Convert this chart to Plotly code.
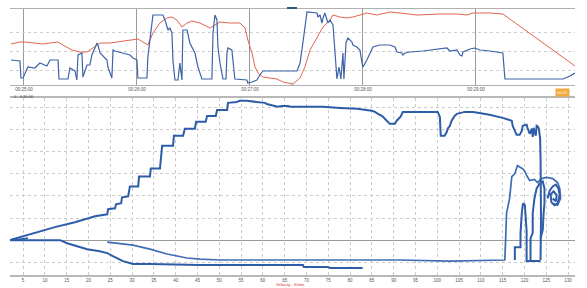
import plotly.graph_objects as go

# ---------------- top panel: time series ----------------
blue_t = [53.1,57.9,58.4,59.5,62.1,65.8,68.5,72.2,73.8,78.1,
          78.6,83.4,84.4,87.1,88.1,88.7,90.8,91.3,93.5,95.0,
          96.1,97.7,98.8,99.3,100.4,104.1,104.6,106.7,107.3,108.3,
          115.2,116.3,117.9,120.0,120.5,125.3,125.8,128.0,128.5,133.8,
          134.9,136.5,137.5,138.6,139.1,140.2,141.8,142.8,143.9,144.4,
          146.6,148.1,150.8,152.4,154.5,159.8,160.4,161.4,162.5,163.0,
          164.1,165.7,167.3,167.8,168.3,170.4,171.0,172.0,178.4,178.9,
          181.1,183.7,185.3,186.9,205.0,206.6,208.1,210.3,215.6,216.1,
          217.2,218.2,218.8,219.8,221.4,222.5,224.1,224.6,225.1,226.2,
          227.3,228.3,229.4,229.9,231.0,232.0,234.2,234.7,236.8,238.4,
          239.5,240.0,242.1,244.8,245.3,249.0,254.3,257.0,258.1,260.7,
          261.2,262.3,264.9,271.9,280.9,284.6,286.2,289.9,291.5,292.6,
          293.1,296.8,299.5,302.1,307.4,312.8,314.3,315.4,325.0,343.0,
          346.2,349.9,352.6]
blue_v = [25,24,7,7,18,17,22,19,25,25,
          6,6,17,14,5,30,32,8,20,20,
          30,38,42,40,32,25,18,7,35,34,
          30,30,27,25,7,7,28,58,70,70,
          65,55,57,52,25,5,5,22,5,55,
          55,42,32,18,6,6,52,70,65,38,
          22,6,6,32,37,35,25,6,5,2,
          3,5,10,14,14,22,42,73,72,68,
          70,62,67,72,62,65,60,48,42,6,
          18,6,32,6,42,47,43,40,38,35,
          22,18,25,35,38,40,40,38,33,32,
          30,32,33,34,36,37,34,35,30,29,
          33,36,37,35,34,33,32,6,6,6,
          6,9,12]

red_t = [53.1,57.9,60.5,64.8,70.1,73.8,78.1,80.7,85.5,89.7,
         93.5,96.6,100.4,105.7,109.4,114.7,120.5,123.2,125.8,128.5,
         132.2,135.9,138.6,141.2,143.9,146.6,149.2,153.5,158.8,161.4,
         164.1,169.4,174.7,177.4,178.9,181.1,182.7,184.3,186.9,190.6,
         194.3,197.5,201.2,202.8,206.6,209.2,211.9,215.6,218.8,222.5,
         224.1,227.8,231.5,234.7,238.4,242.1,247.4,254.3,259.7,268.7,
         280.9,289.9,295.2,298.4,307.4,314.3,352.6]
red_v = [41,43,43,42,41,42,43,40,35,33,
         33,37,42,42,43,45,46,43,40,52,
         62,67,68,65,58,62,64,62,57,60,
         63,62,62,57,45,32,18,12,8,7,
         6,3,2,1,7,18,35,48,58,65,
         70,68,67,68,70,72,70,73,72,70,
         71,71,70,72,72,71,19]

time_ticks = [60, 120, 180, 240, 300]
time_labels = ["00:25:00", "00:26:00", "00:27:00", "00:28:00", "00:29:00"]

# ---------------- bottom panel: velocity plot ----------------
a_x = [2.0,7.75,12.3,16.9,21.5,24.3,24.5,26.1,26.3,27.5,
       27.7,29.1,29.5,31.4,31.6,34.1,34.3,36.4,36.9,39.4,
       39.6,41.7,42.1,44.4,44.7,46.9,47.2,49.2,49.5,51.8,
       52.0,54.0,54.7,56.3,58.6,60.5,60.9,62.3,63.4,64.4,
       65.7,66.4,69.6,73.8,77.7,81.6,85.0,85.7,86.4,87.3,
       88.0,88.7,89.1,90.3,90.7,91.6,92.1,100.1,100.6,100.8,
       101.7,102.2,102.4,102.9,103.3,104.0,104.5,106.3,108.2,109.3,
       112.0,115.0,117.1,117.3,117.8,118.2,118.9,119.4,119.6,120.5,
       120.7,121.2,121.7,121.9,122.1,122.6,122.8,123.1,123.3,123.6,
       123.7,123.8,123.7]
a_y = [0,3.2,5.9,8.1,10.8,11.7,14.0,14.4,16.2,16.7,
       19.4,19.8,24.3,24.3,28.8,28.8,32.4,32.4,42.8,42.8,
       47.3,47.3,50.5,50.5,53.6,53.6,56.3,56.3,59.0,59.0,
       62.2,62.6,63.1,63.1,62.6,62.2,61.7,60.8,60.4,60.8,
       60.8,60.4,60.4,60.4,59.9,59.5,58.6,58.1,57.2,56.3,
       55.0,53.6,52.7,52.7,54.1,55.9,58.1,58.1,55.9,47.3,
       47.3,49.1,50.5,51.8,54.1,56.3,57.2,58.1,58.1,57.7,
       56.8,55.4,54.1,51.8,49.1,47.7,47.7,49.5,51.8,52.3,
       50.9,48.2,50.5,46.8,50.9,47.3,51.8,51.4,50.5,46.0,
       36.9,10.0,-9.0]

b_x = [24.3,30.2,34.1,38.0,42.6,45.6,50.2,68.5,91.4,102.9,
       115.5,115.7,115.9,116.6,117.1,117.8,118.4,119.1,119.6,120.1,
       120.5,121.2,122.3,123.0,123.9,125.1,126.5,127.6,128.1,128.3,
       127.6,126.5]
b_y = [-0.9,-2.3,-4.1,-6.3,-8.1,-8.6,-9.0,-9.0,-9.0,-9.5,
       -9.0,0.9,12.2,18.9,28.8,30.2,33.8,32.9,32.4,31.1,
       29.3,27.0,27.5,26.1,27.9,28.4,27.9,26.1,23.4,18.9,
       15.8,16.7]

c_x = [2.0,13.5,15.1,17.4,19.7,22.6,24.3,25.6,26.5,27.9,30.2,34.1,45.6,69.2,69.4,74.9,75.4,82.9]
c_y = [0,0,-1.4,-2.7,-4.1,-5.0,-5.9,-7.2,-8.1,-9.5,-10.8,-10.8,-11.3,-11.3,-12.2,-12.2,-12.6,-12.6]

d_x = [123.7,120.5,120.5,120.3,120.1,119.8,119.6,119.4,119.1,119.1,117.8,117.8]
d_y = [-9.5,-9.5,4.1,12.2,15.8,16.7,15.8,12.2,3.2,-3.2,-3.2,-9.0]

e_x = [121.4,121.4,121.9,121.9,122.3,122.8,123.5,124.2,124.6,124.6,124.4,124.2,123.7]
e_y = [-9.0,0.9,3.2,12.2,18.9,23.4,25.7,26.6,23.4,16.7,12.2,4.5,0.9]

f_x = [125.3,125.8,126.5,127.2,127.8,128.1,127.6,126.9,126.2,126.0,126.7,127.4,127.2,126.5]
f_y = [18.9,22.5,24.3,25.2,23.4,20.3,16.7,15.8,17.1,20.7,22.1,20.3,17.6,18.9]

w_x = [2.0,6.1,4.3]
w_y = [0,0.9,0]

BLUE = "#2d5ca8"
FONT = "Liberation Sans"

fig = go.Figure()
fig.add_trace(go.Scatter(x=red_t, y=red_v, mode="lines", line=dict(color="#e4644f", width=1),
                         xaxis="x", yaxis="y", hoverinfo="skip"))
fig.add_trace(go.Scatter(x=blue_t, y=blue_v, mode="lines", line=dict(color="#3d64a8", width=1.2),
                         xaxis="x", yaxis="y", hoverinfo="skip"))

for xs, ys, w, col in [(c_x, c_y, 2, BLUE), (b_x, b_y, 1.7, "#3f6db5"), (a_x, a_y, 2, BLUE),
                       (d_x, d_y, 2, BLUE), (e_x, e_y, 2, BLUE), (f_x, f_y, 2, BLUE), (w_x, w_y, 1.5, BLUE)]:
    fig.add_trace(go.Scatter(x=xs, y=ys, mode="lines", line=dict(color=col, width=w),
                             xaxis="x2", yaxis="y2", hoverinfo="skip"))

xd = [10/587, 575/587]
fig.update_layout(
    width=587, height=288, margin=dict(l=0, r=0, t=0, b=0),
    paper_bgcolor="white", plot_bgcolor="white", showlegend=False,
    font=dict(family=FONT, size=5, color="#555555"),
    xaxis=dict(domain=xd, anchor="y", range=[52.6, 352.6], tickvals=time_ticks, ticktext=time_labels,
               showgrid=True, gridcolor="#9a9a9a", gridwidth=1, showline=True, mirror=True,
               linecolor="#b0b0b0", linewidth=1, ticks="",
               tickfont=dict(size=4.5, color="#555555"), zeroline=False),
    yaxis=dict(domain=[(288-85)/288, (288-9)/288], anchor="x", range=[0, 76], tickvals=[15, 34, 53],
               showticklabels=False, showgrid=True, gridcolor="#cfcfcf", griddash="dot",
               zeroline=False, showline=False),
    xaxis2=dict(domain=xd, anchor="y2", range=[2.0, 131.6], tick0=0, dtick=5,
                showgrid=True, gridcolor="#cccccc", griddash="dot", showline=True, mirror=True,
                linecolor="#b8b8b8", linewidth=1.5, ticks="", tickfont=dict(size=4.5, color="#555555"),
                zeroline=False),
    yaxis2=dict(domain=[(288-275)/288, (288-98)/288], anchor="x2", range=[-15.8, 64.4], tick0=0, dtick=10,
                showticklabels=False, showgrid=True, gridcolor="#cccccc", griddash="dot",
                zeroline=True, zerolinecolor="#9a9a9a", zerolinewidth=1, showline=False),
)

fig.add_annotation(xref="paper", yref="paper", x=290/587, y=0, text="Velocity - ft/min",
                   showarrow=False, font=dict(size=4.2, color="#e03030"), yanchor="bottom",
                   borderpad=0)
fig.add_annotation(xref="paper", yref="paper", x=12/587, y=(288-96)/288, text="0 - 0:30:00",
                   showarrow=False, xanchor="left", font=dict(size=4, color="#333333"))
fig.add_annotation(xref="paper", yref="paper", x=569.5/587, y=(288-88.5)/288, text="00:29",
                   showarrow=False, font=dict(size=4, color="white"), bgcolor="#f2a93b",
                   borderpad=1)
fig.add_annotation(xref="paper", yref="paper", x=291/587, y=(288-77)/288, text="»",
                   showarrow=False, font=dict(size=9, color="#aaaaaa"))
fig.add_shape(type="rect", xref="paper", yref="paper", x0=287/587, x1=297/587,
              y0=(288-9)/288, y1=(288-7)/288, fillcolor="#2c5a78", line=dict(width=0))

fig.write_html("out.html", config={"displayModeBar": False})
